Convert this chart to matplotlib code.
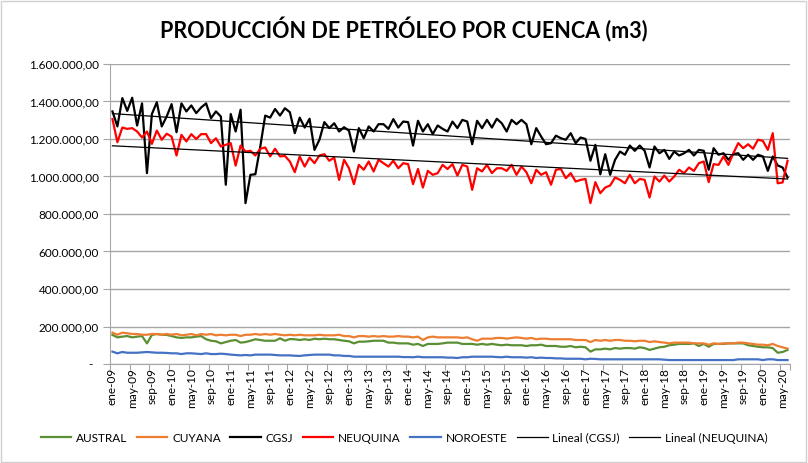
import matplotlib
matplotlib.use("Agg")
import matplotlib.pyplot as plt
import numpy as np
from matplotlib.ticker import FuncFormatter, FixedLocator
from matplotlib.patches import Rectangle

plt.rcParams['font.family'] = ['Lato', 'DejaVu Sans']

title = "PRODUCCIÓN DE PETRÓLEO POR CUENCA (m3)"
meses = ['ene', 'feb', 'mar', 'abr', 'may', 'jun', 'jul', 'ago', 'sep', 'oct', 'nov', 'dic']
start_year = 2009
n_months = 138  # ene-09 .. jun-20

# values in thousands of m3
cgsj = [1347, 1267, 1418, 1350, 1420, 1272, 1390, 1018, 1333, 1396,
        1267, 1320, 1386, 1236, 1390, 1347, 1379, 1338, 1368, 1390,
        1311, 1347, 1320, 956, 1333, 1240, 1356, 858, 1009, 1012,
        1160, 1325, 1314, 1360, 1325, 1364, 1343, 1231, 1314, 1261,
        1308, 1142, 1196, 1290, 1258, 1284, 1240, 1263, 1244, 1133,
        1258, 1204, 1267, 1240, 1279, 1279, 1254, 1306, 1261, 1293,
        1290, 1165, 1297, 1240, 1279, 1226, 1272, 1254, 1240, 1293,
        1258, 1302, 1293, 1172, 1297, 1258, 1302, 1261, 1308, 1284,
        1240, 1302, 1279, 1302, 1279, 1172, 1258, 1213, 1172, 1178,
        1218, 1204, 1196, 1231, 1178, 1208, 1200, 1084, 1169, 1012,
        1119, 1009, 1089, 1133, 1116, 1165, 1137, 1165, 1137, 1048,
        1160, 1124, 1142, 1094, 1133, 1112, 1124, 1142, 1112, 1142,
        1137, 1036, 1151, 1116, 1124, 1089, 1120, 1124, 1089, 1116,
        1089, 1116, 1107, 1030, 1107, 1059, 1048, 995]

neuquina = [1306, 1183, 1261, 1254, 1258, 1240, 1208, 1240, 1174, 1245,
            1196, 1228, 1213, 1112, 1222, 1187, 1226, 1200, 1226, 1226,
            1178, 1204, 1160, 1169, 1178, 1058, 1165, 1133, 1137, 1112,
            1148, 1155, 1107, 1148, 1107, 1110, 1080, 1023, 1107, 1053,
            1101, 1071, 1112, 1119, 1084, 1101, 982, 1089, 1044, 959,
            1062, 1036, 1080, 1027, 1089, 1071, 1053, 1084, 1044, 1071,
            1066, 959, 1040, 941, 1030, 1009, 1018, 1062, 1040, 1066,
            1005, 1062, 1053, 929, 1044, 1027, 1062, 1018, 1044, 1044,
            1030, 1062, 1009, 1053, 1023, 964, 1036, 1009, 1023, 956,
            1036, 1040, 991, 1018, 973, 982, 987, 858, 970, 911,
            941, 952, 995, 982, 964, 1009, 964, 987, 982, 888,
            1000, 973, 1005, 973, 1000, 1036, 1018, 1048, 1030, 1071,
            1080, 970, 1066, 1062, 1107, 1062, 1124, 1178, 1151, 1172,
            1148, 1196, 1190, 1142, 1231, 964, 968, 1084]

austral = [155, 142, 146, 149, 142, 146, 149, 110, 155, 160,
           156, 155, 149, 142, 139, 142, 142, 146, 149, 132,
           124, 121, 110, 117, 124, 128, 114, 117, 124, 132,
           128, 124, 124, 124, 137, 124, 133, 132, 128, 132,
           128, 135, 132, 135, 132, 132, 128, 124, 121, 110,
           119, 119, 121, 124, 124, 124, 114, 114, 110, 110,
           110, 103, 107, 96, 107, 107, 107, 110, 114, 114,
           114, 107, 107, 107, 103, 107, 103, 107, 103, 100,
           103, 100, 100, 100, 96, 100, 100, 103, 96, 96,
           96, 92, 92, 96, 89, 92, 89, 66, 78, 78,
           82, 78, 85, 82, 85, 85, 82, 89, 85, 75,
           82, 89, 92, 100, 103, 107, 107, 107, 110, 96,
           107, 92, 107, 107, 107, 110, 110, 110, 110, 100,
           96, 92, 89, 89, 85, 60, 64, 75]

cuyana = [167, 156, 167, 164, 160, 160, 156, 156, 160, 160,
          156, 160, 156, 160, 153, 156, 160, 153, 160, 156,
          160, 153, 156, 153, 156, 156, 149, 156, 156, 160,
          156, 160, 156, 160, 156, 153, 156, 153, 156, 153,
          153, 153, 156, 153, 153, 153, 156, 149, 149, 142,
          149, 149, 146, 149, 146, 149, 146, 146, 149, 146,
          146, 142, 146, 128, 142, 146, 142, 142, 142, 142,
          142, 139, 142, 132, 124, 135, 135, 135, 139, 139,
          135, 139, 142, 139, 135, 139, 132, 135, 135, 132,
          132, 132, 132, 132, 128, 128, 128, 117, 128, 124,
          128, 124, 128, 128, 124, 124, 121, 124, 124, 117,
          121, 117, 114, 110, 114, 114, 114, 114, 110, 110,
          110, 103, 110, 107, 110, 110, 110, 114, 114, 110,
          107, 103, 103, 100, 107, 96, 89, 82]

noroeste = [66, 57, 64, 60, 60, 60, 62, 64, 62, 60,
            60, 59, 57, 57, 53, 57, 57, 55, 53, 57,
            53, 53, 55, 53, 50, 48, 46, 48, 46, 50,
            50, 50, 50, 48, 46, 46, 46, 44, 43, 46,
            48, 50, 50, 50, 50, 46, 46, 43, 43, 39,
            39, 39, 39, 39, 39, 39, 39, 39, 39, 37,
            37, 36, 39, 36, 36, 36, 36, 36, 34, 34,
            32, 36, 36, 39, 39, 39, 39, 39, 37, 36,
            39, 36, 36, 36, 34, 36, 32, 34, 32, 32,
            30, 30, 28, 28, 28, 28, 25, 28, 27, 25,
            25, 25, 25, 25, 25, 25, 25, 25, 25, 25,
            25, 25, 23, 21, 21, 21, 21, 21, 21, 21,
            21, 21, 21, 21, 21, 21, 21, 25, 25, 25,
            25, 25, 21, 25, 25, 21, 21, 21]

series = [
    ("AUSTRAL", austral, '#5b8f34'),
    ("CUYANA", cuyana, '#ed7d31'),
    ("CGSJ", cgsj, '#000000'),
    ("NEUQUINA", neuquina, '#ff0000'),
    ("NOROESTE", noroeste, '#4472c4'),
]

labels = [f"{meses[i % 12]}-{(start_year + i // 12) % 100:02d}" for i in range(n_months)]
x = np.arange(n_months)

fig = plt.figure(figsize=(8.08, 4.63), dpi=100)
ax = fig.add_axes([110 / 808, 1 - 364 / 463, 680 / 808, 300 / 463])

handles = []
for name, vals, col in series:
    h, = ax.plot(x, np.array(vals) * 1000, color=col, lw=1.6, label=name, zorder=3)
    handles.append(h)

for name, vals in [("CGSJ", cgsj), ("NEUQUINA", neuquina)]:
    v = np.array(vals) * 1000
    p = np.polyfit(x, v, 1)
    h, = ax.plot(x, np.polyval(p, x), color='black', lw=0.9, label=f"Lineal ({name})", zorder=4)
    handles.append(h)

ax.set_xlim(-0.5, n_months - 0.5)
ax.set_ylim(0, 1600000)
ax.set_yticks(np.arange(0, 1600001, 200000))


def fmt(v, pos):
    if v == 0:
        return '-  '
    s = f"{int(v):,}".replace(',', '.')
    return s + ',00'


ax.yaxis.set_major_formatter(FuncFormatter(fmt))
ax.grid(axis='y', color='#a6a6a6', lw=1)
ax.set_axisbelow(True)

# x ticks: marks at category boundaries every 4, labels at centers
label_idx = list(range(0, n_months, 4))
ax.xaxis.set_major_locator(FixedLocator([i - 0.5 for i in label_idx] + [n_months - 0.5]))
ax.xaxis.set_minor_locator(FixedLocator(label_idx))
ax.xaxis.set_major_formatter(FuncFormatter(lambda v, p: ''))
ax.xaxis.set_minor_formatter(FuncFormatter(lambda v, p: labels[int(round(v))]))
ax.tick_params(axis='x', which='major', length=4, color='#a6a6a6')
ax.tick_params(axis='x', which='minor', length=0, labelsize=8.5, labelrotation=90, pad=3, labelcolor='#000000')
ax.tick_params(axis='y', length=5, color='#a6a6a6', labelsize=8.5, pad=3)

for s in ['top', 'right']:
    ax.spines[s].set_visible(False)
ax.spines['left'].set_color('#a6a6a6')
ax.spines['bottom'].set_color('#a6a6a6')

fig.text(0.5, 1 - 30 / 463, title, ha='center', va='center', fontsize=15.5, fontweight='bold')

fig.legend(handles=handles, loc='center', bbox_to_anchor=(0.5, 1 - 438 / 463), ncol=7,
           frameon=False, fontsize=8.5, handlelength=2.6, columnspacing=0.8, handletextpad=0.4)

fig.patches.append(Rectangle((0.001, 0.002), 0.997, 0.996, transform=fig.transFigure,
                             fill=False, edgecolor='#d0d0d0', lw=1))

fig.savefig("out.png", dpi=100)
